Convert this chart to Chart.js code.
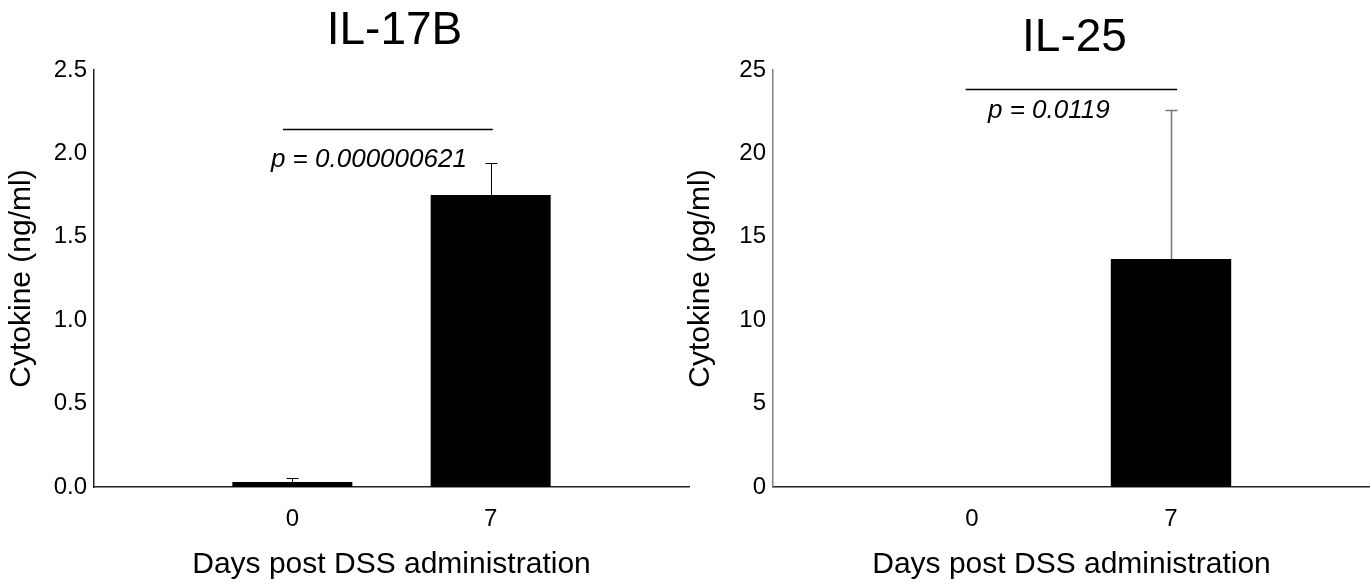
<!DOCTYPE html>
<html>
<head>
<meta charset="utf-8">
<script src="https://cdn.jsdelivr.net/npm/chart.js@4"></script>
<style>
  html, body { margin: 0; padding: 0; background: #fff; }
  #wrap { position: relative; width: 1370px; height: 584px; overflow: hidden; }
  canvas { position: absolute; top: 0; }
</style>
</head>
<body>
<div id="wrap">
  <canvas id="chartLeft" width="700" height="584" style="left:0"></canvas>
  <canvas id="chartRight" width="691" height="584" style="left:679px"></canvas>
</div>
<script>
// data
const days = ["0", "7"];

const il17bMean = [0.03, 1.75];
const il17bSem = [0.025, 0.195];
const il17bTicks = [0, 0.5, 1.0, 1.5, 2.0, 2.5];

const il25Mean = [0, 13.67];
const il25Sem = [0, 8.95];
const il25Ticks = [0, 5, 10, 15, 20, 25];

// significance bracket: [x from, x to, y] and p label
const il17bSig = [0.953, 2.011, 2.146];
const il17bP = "p = 0.000000621";
const il25Sig = [0.968, 2.031, 23.86];
const il25P = "p = 0.0119";

const FONT = "'Liberation Sans', Arial, Helvetica, sans-serif";

// error bars, titles and p-value brackets
const extras = {
  id: "extras",
  afterDatasetsDraw(chart, args, opts) {
    const { ctx, chartArea, scales: { x, y } } = chart;
    ctx.save();

    // error bars (upper only)
    ctx.strokeStyle = opts.errColor;
    ctx.lineWidth = opts.errWidth;
    opts.mean.forEach((m, i) => {
      if (!opts.sem[i]) return;
      const px = Math.round(x.getPixelForValue(i + 1)) + 0.5;
      const yb = y.getPixelForValue(m);
      const yt = Math.round(y.getPixelForValue(m + opts.sem[i])) + 0.5;
      ctx.beginPath();
      ctx.moveTo(px, yb);
      ctx.lineTo(px, yt);
      ctx.moveTo(px - 6, yt);
      ctx.lineTo(px + 6, yt);
      ctx.stroke();
    });

    // bracket line
    const s = opts.sig;
    const ly = Math.round(y.getPixelForValue(s[2])) + 0.5;
    ctx.strokeStyle = "#000";
    ctx.lineWidth = 1.5;
    ctx.beginPath();
    ctx.moveTo(x.getPixelForValue(s[0]), ly);
    ctx.lineTo(x.getPixelForValue(s[1]), ly);
    ctx.stroke();

    // p text
    ctx.fillStyle = "#000";
    ctx.font = "italic 26px " + FONT;
    ctx.textAlign = "center";
    ctx.textBaseline = "middle";
    ctx.fillText(opts.pText, x.getPixelForValue(opts.pPos[0]), y.getPixelForValue(opts.pPos[1]));

    // chart title, centred over the plot area
    ctx.font = "46px " + FONT;
    ctx.fillText(opts.title, (chartArea.left + chartArea.right) / 2 + 3, opts.titleY);
    ctx.restore();
  }
};

function makeChart(id, cfg) {
  return new Chart(id, {
    type: "bar",
    data: {
      datasets: [{
        data: days.map((d, i) => ({ x: i + 1, y: cfg.mean[i] })),
        backgroundColor: "#000",
        borderWidth: 0,
        barPercentage: 0.605,
        categoryPercentage: 1
      }]
    },
    options: {
      responsive: false,
      animation: false,
      devicePixelRatio: 1,
      layout: { padding: { top: 70, right: cfg.padRight, left: 0, bottom: 0 } },
      scales: {
        x: {
          type: "linear",
          offset: false,
          min: 0,
          max: 3,
          afterBuildTicks: s => { s.ticks = days.map((d, i) => ({ value: i + 1 })); },
          afterFit: s => { s.height = 97; },
          grid: { display: false, drawTicks: false },
          border: { display: true, color: "#222", width: 1.5 },
          ticks: {
            color: "#000",
            padding: 18,
            font: { family: FONT, size: 24 },
            callback: v => days[v - 1]
          },
          title: {
            display: true,
            text: "Days post DSS administration",
            color: "#000",
            font: { family: FONT, size: 30, lineHeight: 1 },
            padding: { top: 0, bottom: 4 }
          }
        },
        y: {
          min: 0,
          max: cfg.ticks[cfg.ticks.length - 1],
          afterBuildTicks: s => { s.ticks = cfg.ticks.map(v => ({ value: v })); },
          afterFit: s => { s.width = 94; },
          grid: { display: false, drawTicks: false },
          border: { display: true, color: cfg.yAxisColor, width: 1.5 },
          ticks: {
            color: "#000",
            padding: 7,
            font: { family: FONT, size: 24 },
            callback: cfg.tickFmt
          },
          title: {
            display: true,
            text: cfg.yTitle,
            color: "#000",
            font: { family: FONT, size: 30, lineHeight: 1 },
            padding: { top: 7, bottom: 0 }
          }
        }
      },
      plugins: {
        legend: { display: false },
        tooltip: { enabled: false },
        extras: {
          mean: cfg.mean,
          sem: cfg.sem,
          errColor: cfg.errColor,
          errWidth: cfg.errWidth,
          sig: cfg.sig,
          pText: cfg.pText,
          pPos: cfg.pPos,
          title: cfg.title,
          titleY: cfg.titleY
        }
      }
    },
    plugins: [extras]
  });
}

makeChart("chartLeft", {
  mean: il17bMean,
  sem: il17bSem,
  ticks: il17bTicks,
  tickFmt: v => v.toFixed(1),
  padRight: 11,
  yAxisColor: "#222",
  errColor: "#000",
  errWidth: 1,
  yTitle: "Cytokine (ng/ml)",
  sig: il17bSig,
  pText: il17bP,
  pPos: [1.386, 1.96],
  title: "IL-17B",
  titleY: 31
});

makeChart("chartRight", {
  mean: il25Mean,
  sem: il25Sem,
  ticks: il25Ticks,
  tickFmt: v => String(v),
  padRight: 0,
  yAxisColor: "#808080",
  errColor: "#777",
  errWidth: 1.5,
  yTitle: "Cytokine (pg/ml)",
  sig: il25Sig,
  pText: il25P,
  pPos: [1.386, 22.54],
  title: "IL-25",
  titleY: 38
});
</script>
</body>
</html>
